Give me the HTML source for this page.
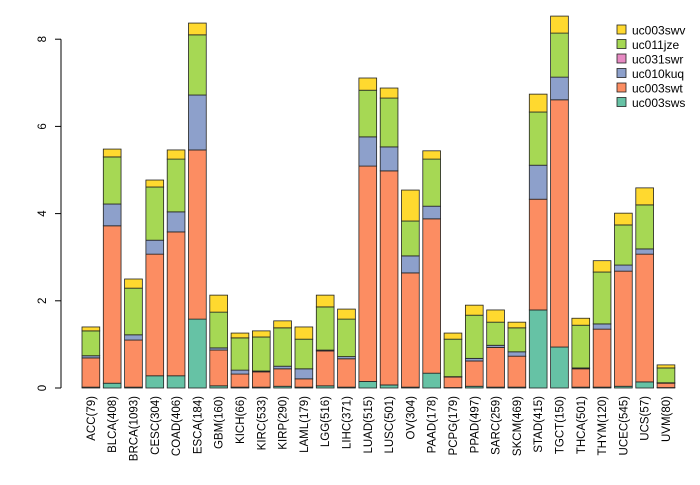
<!DOCTYPE html>
<html><head><meta charset="utf-8"><style>
html,body{margin:0;padding:0;background:#fff;}
svg text{font-family:"Liberation Sans",sans-serif;}
</style></head><body>
<svg id="chart" width="700" height="480" viewBox="0 0 700 480" xmlns="http://www.w3.org/2000/svg">
<g id="bars"></g>
<g id="xlabels"></g>
<g id="yaxis"></g>
<g id="legend"></g>
</svg>
<script>
const categories = ["ACC(79)","BLCA(408)","BRCA(1093)","CESC(304)","COAD(406)","ESCA(184)","GBM(160)","KICH(66)","KIRC(533)","KIRP(290)","LAML(179)","LGG(516)","LIHC(371)","LUAD(515)","LUSC(501)","OV(304)","PAAD(178)","PCPG(179)","PPAD(497)","SARC(259)","SKCM(469)","STAD(415)","TGCT(150)","THCA(501)","THYM(120)","UCEC(545)","UCS(57)","UVM(80)"];
const seriesNames = ["uc003sws","uc003swt","uc031swr","uc010kuq","uc011jze","uc003swv"];
const sws = [0.02,0.11,0.02,0.28,0.28,1.58,0.05,0.02,0.02,0.04,0.02,0.05,0.02,0.15,0.07,0.02,0.34,0.01,0.04,0.02,0.02,1.79,0.94,0.02,0.02,0.04,0.14,0.01];
const swt = [0.67,3.61,1.08,2.79,3.30,3.88,0.82,0.30,0.35,0.40,0.19,0.80,0.65,4.94,4.91,2.62,3.54,0.24,0.58,0.91,0.71,2.54,5.67,0.42,1.33,2.64,2.93,0.10];
const swr = [0,0,0,0,0,0,0,0,0,0,0,0,0,0,0,0,0,0,0,0,0,0,0,0,0,0,0,0];
const kuq = [0.05,0.50,0.12,0.32,0.46,1.26,0.05,0.09,0.02,0.06,0.23,0.02,0.05,0.67,0.55,0.39,0.29,0.01,0.06,0.05,0.10,0.78,0.52,0.02,0.12,0.14,0.12,0.01];
const jze = [0.57,1.08,1.07,1.22,1.21,1.38,0.82,0.74,0.78,0.88,0.68,0.99,0.86,1.07,1.12,0.80,1.08,0.86,0.99,0.53,0.55,1.22,1.01,0.98,1.19,0.92,1.01,0.34];
const swv = [0.09,0.18,0.21,0.16,0.21,0.27,0.39,0.11,0.14,0.16,0.28,0.27,0.23,0.28,0.23,0.71,0.19,0.14,0.23,0.28,0.13,0.41,0.39,0.16,0.26,0.27,0.39,0.07];
const yTicks = [0,2,4,6,8];
const legendOrder = [5,4,2,3,1,0];

const NS="http://www.w3.org/2000/svg";
const series=[sws,swt,swr,kuq,jze,swv];
const colors=["#66C2A5","#FC8D62","#E78AC3","#8DA0CB","#A6D854","#FFD92F"];
const y0=388, yUnit=43.6;
function yScale(v){return y0 - v*yUnit;}
const step=21.3, bw=17.75, xStart=82;
function xScale(i){return xStart + i*step;}
function mk(tag,attrs,parent){const e=document.createElementNS(NS,tag);for(const k in attrs)e.setAttribute(k,attrs[k]);parent.appendChild(e);return e;}

const gb=document.getElementById('bars');
categories.forEach((c,i)=>{
  let cum=0;
  series.forEach((s,k)=>{
    const v=s[i]; if(v<=0) return;
    const r=mk('rect',{x:xScale(i),y:yScale(cum+v),width:bw,height:v*yUnit,fill:colors[k],stroke:'#222','stroke-width':0.8},gb);
    
    
    cum+=v;
  });
});
const gx=document.getElementById('xlabels');
categories.forEach((c,i)=>{
  const cx=xScale(i)+bw/2+4;
  const t=mk('text',{x:0,y:0,transform:`translate(${cx},396) rotate(-90)`,'text-anchor':'end','font-size':11.5,fill:'#000'},gx);
  t.textContent=c;
  
  
});
const gy=document.getElementById('yaxis');
const axl=mk('line',{x1:61,x2:61,y1:yScale(0),y2:yScale(8),stroke:'#000','stroke-width':1},gy);


yTicks.forEach(v=>{
  const tk=mk('line',{x1:55,x2:61,y1:yScale(v),y2:yScale(v),stroke:'#000','stroke-width':1},gy);
  
  
  const t=mk('text',{x:0,y:0,transform:`translate(46,${yScale(v)}) rotate(-90)`,'text-anchor':'middle','font-size':11.5,fill:'#000'},gy);
  t.textContent=v;
  
  
});
const gl=document.getElementById('legend');
legendOrder.forEach((k,j)=>{
  const yy=30+j*14.5;
  const r=mk('rect',{x:617,y:yy-5,width:9,height:9,fill:colors[k],stroke:'#222','stroke-width':0.8},gl);
  
  
  const t=mk('text',{x:632,y:yy+4.5,'font-size':12,fill:'#000'},gl);
  t.textContent=seriesNames[k];
  
  
});
</script>
</body></html>
